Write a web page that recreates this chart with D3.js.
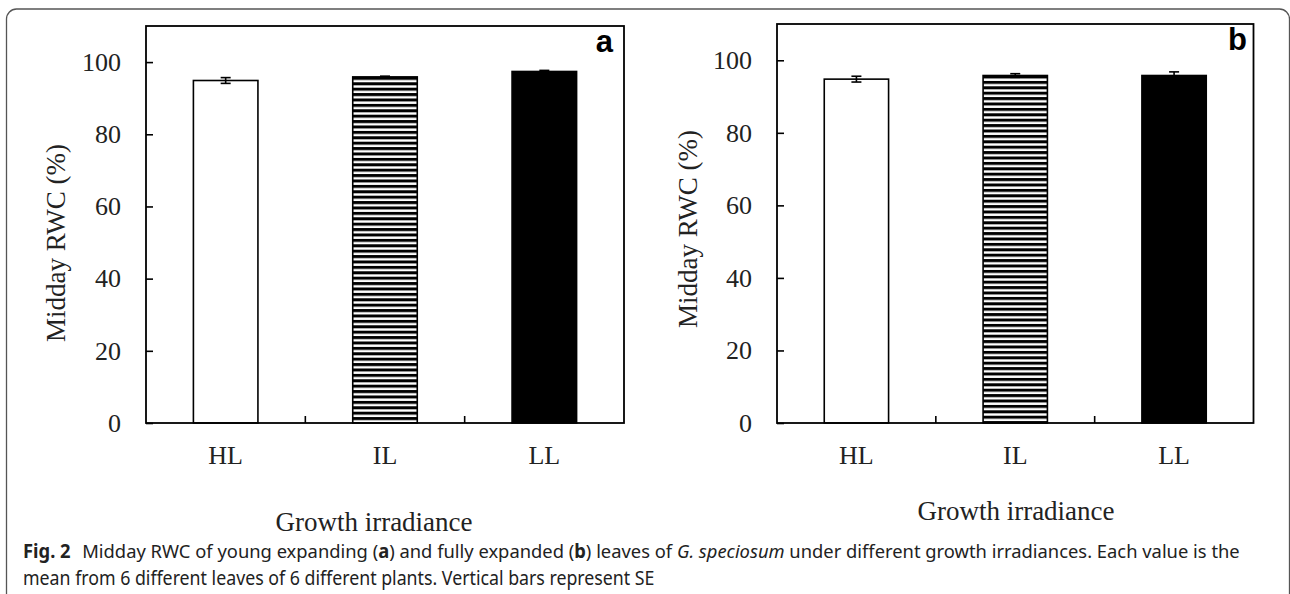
<!DOCTYPE html>
<html lang="en">
<head>
  <meta charset="UTF-8" />
  <title>Midday RWC</title>
  <style>
    html, body {
      margin: 0;
      background: #fff;
    }
    svg {
      display: block;
    }
    .tick text, .axis-title {
      font-family: "Liberation Serif", "Times New Roman", serif;
      fill: #222;
    }
    .panel-letter {
      font-family: "Liberation Sans", Arial, sans-serif;
      font-weight: bold;
      font-size: 31px;
      fill: #000;
    }
    .caption {
      font-family: "Noto Sans", "Open Sans", sans-serif;
      font-size: 19px;
      fill: #222;
    }
  </style>
  <script src="https://d3js.org/d3.v7.min.js"></script>
</head>
<body>
  <svg id="fig" width="1290" height="594"></svg>
  <script>
    // data
    const categories = ["HL", "IL", "LL"];
    const meansA = [94.9, 95.9, 97.4];
    const seA = [0.8, 0.2, 0.3];
    const meansB = [94.8, 95.8, 95.8];
    const seB = [0.8, 0.5, 1.0];
    const yTicks = [0, 20, 40, 60, 80, 100];
    const yMax = 110;
    const fills = ["#fff", "hatch", "#000"];

    // layout for the two panels
    const panels = [
      { id: "a", means: meansA, se: seA, left: 146, right: 624, top: 26, bottom: 423,
        ylabX: 65, ylabY: 243, xlabX: 374, xlabY: 531, letterX: 613, letterY: 52 },
      { id: "b", means: meansB, se: seB, left: 777, right: 1253.5, top: 24, bottom: 423,
        ylabX: 697, ylabY: 229, xlabX: 1016, xlabY: 520, letterX: 1247, letterY: 50 }
    ];

    const svg = d3.select("#fig");
    const defs = svg.append("defs");

    // outer rounded frame
    svg.append("rect")
      .attr("x", 6.5).attr("y", 9)
      .attr("width", 1283).attr("height", 700)
      .attr("rx", 10)
      .attr("fill", "none")
      .attr("stroke", "#555")
      .attr("stroke-width", 1.3);

    panels.forEach(function(p) {
      const x = d3.scaleBand()
        .domain(categories)
        .range([p.left, p.right])
        .paddingInner(0.595)
        .paddingOuter(0.2975);

      const y = d3.scaleLinear()
        .domain([0, yMax])
        .range([p.bottom, p.top]);

      // horizontal stripes for IL
      const hatchTop = y(p.means[1]);
      const pat = defs.append("pattern")
        .attr("id", "hatch-" + p.id)
        .attr("patternUnits", "userSpaceOnUse")
        .attr("x", 0).attr("y", hatchTop)
        .attr("width", 10).attr("height", 5.4);
      pat.append("rect").attr("width", 10).attr("height", 5.4).attr("fill", "#fff");
      pat.append("rect").attr("width", 10).attr("height", 3).attr("fill", "#000");

      const g = svg.append("g");

      // bars
      g.selectAll("rect.bar")
        .data(categories)
        .enter().append("rect")
        .attr("class", "bar")
        .attr("x", d => x(d))
        .attr("y", (d, i) => y(p.means[i]))
        .attr("width", x.bandwidth())
        .attr("height", (d, i) => y(0) - y(p.means[i]))
        .attr("fill", (d, i) => fills[i] === "hatch" ? "url(#hatch-" + p.id + ")" : fills[i])
        .attr("stroke", "#000")
        .attr("stroke-width", 1.6);

      // error bars
      const eb = g.selectAll("g.err")
        .data(categories)
        .enter().append("g")
        .attr("class", "err")
        .attr("stroke", "#000")
        .attr("stroke-width", 1.6);
      eb.append("line")
        .attr("x1", d => x(d) + x.bandwidth() / 2)
        .attr("x2", d => x(d) + x.bandwidth() / 2)
        .attr("y1", (d, i) => y(p.means[i] - p.se[i]))
        .attr("y2", (d, i) => y(p.means[i] + p.se[i]));
      [1, -1].forEach(function(s) {
        eb.append("line")
          .attr("x1", d => x(d) + x.bandwidth() / 2 - 5)
          .attr("x2", d => x(d) + x.bandwidth() / 2 + 5)
          .attr("y1", (d, i) => y(p.means[i] + s * p.se[i]))
          .attr("y2", (d, i) => y(p.means[i] + s * p.se[i]));
      });

      // y axis with inward ticks
      const yAxis = g.append("g")
        .attr("transform", "translate(" + p.left + ",0)")
        .call(d3.axisLeft(y).tickValues(yTicks).tickSize(-7).tickPadding(25));
      yAxis.select(".domain").remove();
      yAxis.selectAll(".tick line").attr("stroke", "#000").attr("stroke-width", 1.6);
      yAxis.selectAll(".tick text").attr("font-size", 26);

      // x axis labels
      const xAxis = g.append("g")
        .attr("transform", "translate(0," + p.bottom + ")")
        .call(d3.axisBottom(x).tickSize(0).tickPadding(23));
      xAxis.select(".domain").remove();
      xAxis.selectAll(".tick text").attr("font-size", 26);

      // small upward ticks between categories
      g.selectAll("line.minor")
        .data(categories.slice(1))
        .enter().append("line")
        .attr("class", "minor")
        .attr("x1", d => x(d) - x.step() * x.paddingInner() / 2)
        .attr("x2", d => x(d) - x.step() * x.paddingInner() / 2)
        .attr("y1", p.bottom)
        .attr("y2", p.bottom - 7)
        .attr("stroke", "#000")
        .attr("stroke-width", 1.6);

      // plot frame
      g.append("rect")
        .attr("x", p.left).attr("y", p.top)
        .attr("width", p.right - p.left)
        .attr("height", p.bottom - p.top)
        .attr("fill", "none")
        .attr("stroke", "#000")
        .attr("stroke-width", 1.8);

      // titles
      g.append("text")
        .attr("class", "axis-title")
        .attr("transform", "translate(" + p.ylabX + "," + p.ylabY + ") rotate(-90)")
        .attr("text-anchor", "middle")
        .attr("font-size", 27)
        .text("Midday RWC (%)");

      g.append("text")
        .attr("class", "axis-title")
        .attr("x", p.xlabX).attr("y", p.xlabY)
        .attr("text-anchor", "middle")
        .attr("font-size", 27)
        .text("Growth irradiance");

      g.append("text")
        .attr("class", "panel-letter")
        .attr("x", p.letterX).attr("y", p.letterY)
        .attr("text-anchor", "end")
        .text(p.id);
    });

    // caption, squeezed horizontally to the reference line widths
    function fitText(sel, x0, y0, target) {
      const w = sel.node().getComputedTextLength();
      sel.attr("transform", "translate(" + x0 + "," + y0 + ") scale(" + (target / w) + ",1)");
    }

    const cap1 = svg.append("text").attr("class", "caption");
    cap1.append("tspan").attr("font-weight", "bold").text("Fig. 2");
    cap1.append("tspan").attr("dx", 12).text("Midday RWC of young expanding (");
    cap1.append("tspan").attr("font-weight", "bold").text("a");
    cap1.append("tspan").text(") and fully expanded (");
    cap1.append("tspan").attr("font-weight", "bold").text("b");
    cap1.append("tspan").text(") leaves of ");
    cap1.append("tspan").attr("font-style", "italic").text("G. speciosum");
    cap1.append("tspan").text(" under different growth irradiances. Each value is the");
    fitText(cap1, 23, 558, 1206);

    const cap2 = svg.append("text")
      .attr("class", "caption")
      .text("mean from 6 different leaves of 6 different plants. Vertical bars represent SE");
    fitText(cap2, 23, 585, 632);
  </script>
</body>
</html>
